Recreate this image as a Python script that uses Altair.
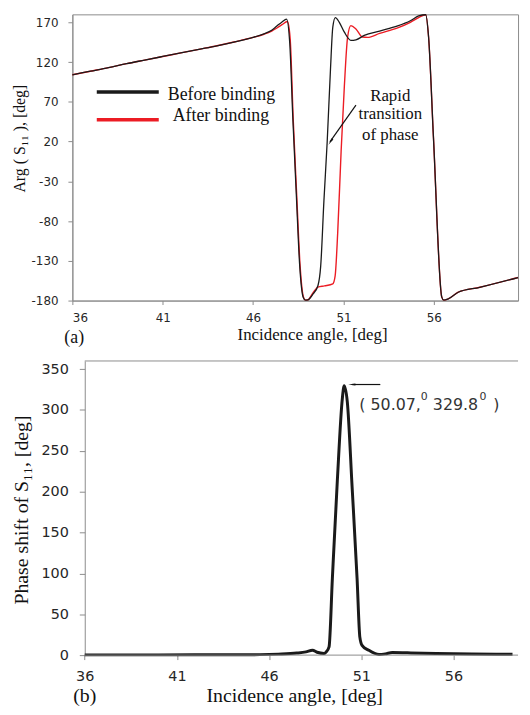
import altair as alt
import pandas as pd

# ---------------- data ----------------
# (a) Arg(S11) versus incidence angle
angle_before = [36.0, 37.0, 38.0, 39.0, 40.0, 41.0, 42.0, 43.0, 44.0, 45.0, 46.0, 46.6,
                47.03, 47.3, 47.6, 47.85, 48.03, 48.2, 48.39, 48.58, 48.77, 48.9, 49.04,
                49.32, 49.59, 49.74, 49.92, 50.1, 50.28, 50.41, 50.55, 50.77, 51.05, 51.41,
                51.69, 52.15, 53.0, 54.0, 54.7, 55.16, 55.55, 55.71, 55.98, 56.44, 56.55,
                56.8, 57.35, 58.54, 60.66]
arg_before = [104, 108.5, 113, 118, 122.5, 127, 131.5, 136, 140.5, 145.5, 151, 155.5,
              160, 165, 170.5, 174, 143, 48.6, -46, -136.7, -175.7, -179.5, -179,
              -171.6, -161, -136.7, -54, 19.8, 110, 164, 176, 170, 157.6, 147.3,
              148, 153.5, 159, 165.5, 172, 178, 179.5, 151.5, 25, -175.7, -179.5,
              -177.8, -169.5, -163.3, -151]

angle_after = [36.0, 37.0, 38.0, 39.0, 40.0, 41.0, 42.0, 43.0, 44.0, 45.0, 46.0, 46.6,
               47.03, 47.3, 47.6, 47.9, 48.05, 48.22, 48.41, 48.6, 48.78, 48.9, 49.04,
               49.32, 49.59, 49.95, 50.41, 50.54, 50.68, 50.87, 51.05, 51.23, 51.41,
               51.69, 52.05, 52.33, 53.0, 54.0, 54.7, 55.16, 55.55, 55.71, 55.98, 56.44,
               56.55, 56.8, 57.35, 58.54, 60.66]
arg_after = [104, 108.5, 113, 118, 122.5, 127, 131.5, 136, 140.5, 145.5, 151, 155,
             159, 162.5, 167, 171, 150, 48, -46, -136, -175, -179.5, -179,
             -170, -163, -161.5, -159, -149, -95.4, 7.4, 89.8, 151.5, 165.8,
             161.7, 151.5, 151, 156, 163, 170, 176, 179.5, 151.5, 25, -175.7,
             -179.5, -177.8, -169.5, -163.3, -151]

# (b) phase shift of S11
angle_shift = [36.0, 40.0, 44.0, 45.5, 46.5, 47.5, 48.0, 48.35, 48.6, 48.98, 49.1, 49.25,
               49.43, 49.7, 49.97, 50.07, 50.24, 50.5, 50.77, 50.92, 51.04, 51.4, 51.96,
               52.3, 52.68, 53.5, 55.05, 57.0, 59.2]
phase_shift = [0.3, 0.3, 0.4, 0.6, 1.2, 2.5, 4, 6, 3.5, 2, 4, 10,
               94, 214, 314, 329.8, 310, 206, 94, 22, 12, 6, 0.8,
               1.5, 3.2, 2.8, 2, 1.3, 1]

x_ticks = [36, 41, 46, 51, 56]
y_ticks_top = [-180, -130, -80, -30, 20, 70, 120, 170]
y_ticks_bot = [0, 50, 100, 150, 200, 250, 300, 350]

series_names = ["Before binding", "After binding"]
annotation_lines = ["Rapid", "transition", "of phase"]
# peak label "( 50.07,^0 329.8^0 )" split into normal and superscript pieces
peak_parts = ["( 50.07,", "329.8", ")"]
peak_parts_x = [50.89, 54.88, 58.16]
peak_sup_x = [54.22, 57.41]

# ---------------- styling ----------------
GRAY = "#8c8c8c"
BLACK = "#1a1a1a"
RED = "#ec1c24"
SERIF = "Liberation Serif"
SANS = "DejaVu Sans"
HYPHEN_LABEL = "datum.value < 0 ? '-' + abs(datum.value) : '' + datum.value"

W_TOP, H_TOP = 450, 289
W_BOT, H_BOT = 450, 297
BOT_INSET = 12.5          # bottom plot's axis corner sits a little right of the top one

top_df = pd.DataFrame({"angle": angle_before, "arg": arg_before})
top_df2 = pd.DataFrame({"angle": angle_after, "arg": arg_after})

xs_top = alt.Scale(domain=[36, 60.66], nice=False, zero=False)
ys_top = alt.Scale(domain=[-180, 180], nice=False, zero=False)

x_top = alt.X("angle:Q", scale=xs_top,
              axis=alt.Axis(values=x_ticks, title="Incidence angle, [deg]", grid=False,
                            domainColor=GRAY, tickColor=GRAY, tickSize=4,
                            labelFont=SANS, labelFontSize=12, labelColor="#262626",
                            labelPadding=8, titleFont=SERIF, titleFontSize=17,
                            titleFontWeight="normal", titleColor="#111111",
                            titlePadding=3, titleX=242))
y_top = alt.Y("arg:Q", scale=ys_top,
              axis=alt.Axis(values=y_ticks_top, title="Arg ( S\u2081\u2081 ), [deg]",
                            labelExpr=HYPHEN_LABEL,
                            grid=False, domainColor=GRAY, tickColor=GRAY, tickSize=4.5,
                            labelFont=SANS, labelFontSize=12, labelColor="#262626",
                            labelPadding=10, titleFont=SERIF, titleFontSize=16,
                            titleFontWeight="normal", titleColor="#111111",
                            titleX=-45, titleY=125))

red_line = alt.Chart(top_df2).mark_line(color=RED, strokeWidth=1.4, interpolate="monotone").encode(x=x_top, y=y_top)
black_line = alt.Chart(top_df).mark_line(color=BLACK, strokeWidth=1.3, interpolate="monotone").encode(x="angle:Q", y="arg:Q")

# legend drawn inside the plot
leg_df = pd.DataFrame({"x1": [37.35, 37.35], "x2": [40.78, 40.78], "y": [82.3, 47.3],
                       "name": series_names, "tx": [41.28, 41.55], "ty": [78.9, 52.6]})
leg_lines = alt.Chart(leg_df).mark_rule(strokeWidth=3.5).encode(
    x="x1:Q", x2="x2:Q", y="y:Q",
    color=alt.Color("name:N", scale=alt.Scale(domain=series_names, range=[BLACK, RED]), legend=None))
leg_text = alt.Chart(leg_df).mark_text(align="left", baseline="middle", font=SERIF,
                                       fontSize=18, color="#111111").encode(
    x="tx:Q", y="ty:Q", text="name:N")

ann_df = pd.DataFrame({"x": [53.59] * 3, "y": [76.9, 54.2, 27.8], "t": annotation_lines})
ann_text = alt.Chart(ann_df).mark_text(align="center", baseline="middle", font=SERIF,
                                       fontSize=17, color="#111111").encode(
    x="x:Q", y="y:Q", text="t:N")
arrow_df = pd.DataFrame({"x": [51.69], "y": [65.8], "x2": [50.25], "y2": [19.5]})
arrow_line = alt.Chart(arrow_df).mark_rule(color="#111111", strokeWidth=1.2).encode(
    x="x:Q", y="y:Q", x2="x2:Q", y2="y2:Q")
head_df = pd.DataFrame({"x": [50.32], "y": [21.0]})
arrow_head = alt.Chart(head_df).mark_point(shape="wedge", angle=215, size=70, filled=True,
                                            color="#111111", opacity=1).encode(x="x:Q", y="y:Q")

tag_a = alt.Chart(pd.DataFrame({"x": [36.1], "y": [-227], "t": ["(a)"]})).mark_text(
    align="center", baseline="middle", font=SERIF, fontSize=18, color="#111111").encode(
    x="x:Q", y="y:Q", text="t:N")

top = alt.layer(red_line, black_line, leg_lines, leg_text, ann_text, arrow_line, arrow_head, tag_a).properties(
    width=W_TOP, height=H_TOP, view=alt.ViewBackground(stroke=GRAY, strokeWidth=1))

# ---------------- bottom panel ----------------
bot_df = pd.DataFrame({"angle": angle_shift, "shift": phase_shift})
X_BOT_MAX = 59.5
X_BOT_MIN = 36 - BOT_INSET * (X_BOT_MAX - 36) / (W_BOT - BOT_INSET)
xs_bot = alt.Scale(domain=[X_BOT_MIN, X_BOT_MAX], nice=False, zero=False)
ys_bot = alt.Scale(domain=[0, 360], nice=False, zero=False)

x_bot = alt.X("angle:Q", scale=xs_bot,
              axis=alt.Axis(values=x_ticks, title="Incidence angle, [deg]", grid=False,
                            domain=False, tickColor=GRAY, tickSize=4.5,
                            labelFont=SANS, labelFontSize=14.5, labelColor="#262626",
                            labelPadding=10, titleFont=SERIF, titleFontSize=20,
                            titleFontWeight="normal", titleColor="#111111",
                            titlePadding=3, titleX=224))
y_bot = alt.Y("shift:Q", scale=ys_bot,
              axis=alt.Axis(values=y_ticks_bot, title="Phase shift of S\u2081\u2081, [deg]",
                            offset=-BOT_INSET,
                            grid=False, domainColor=GRAY, tickColor=GRAY, tickSize=5.5,
                            labelFont=SANS, labelFontSize=14.5, labelColor="#262626",
                            labelPadding=11, titleFont=SERIF, titleFontSize=20,
                            titleFontWeight="normal", titleColor="#111111",
                            titleX=-53.5, titleY=150))

shift_line = alt.Chart(bot_df).mark_line(color=BLACK, strokeWidth=3, interpolate="monotone").encode(x=x_bot, y=y_bot)
frame_df = pd.DataFrame({"x": [36.0]})
top_border = alt.Chart(frame_df).mark_rule(color=GRAY, strokeWidth=1).encode(
    x="x:Q", x2=alt.value(W_BOT), y=alt.value(0))
base_line = alt.Chart(frame_df).mark_rule(color=GRAY, strokeWidth=1).encode(
    x="x:Q", x2=alt.value(W_BOT), y=alt.value(H_BOT))

b_arrow_df = pd.DataFrame({"x": [52.03], "x2": [50.5], "y": [331.2]})
b_arrow = alt.Chart(b_arrow_df).mark_rule(color="#111111", strokeWidth=1.2).encode(x="x:Q", x2="x2:Q", y="y:Q")
b_head = alt.Chart(pd.DataFrame({"x": [50.55], "y": [331.2]})).mark_point(
    shape="wedge", angle=270, size=70, filled=True, color="#111111", opacity=1).encode(x="x:Q", y="y:Q")
b_text = alt.Chart(pd.DataFrame({"x": peak_parts_x, "y": [306] * 3, "t": peak_parts})).mark_text(
    align="left", baseline="middle", font=SANS, fontSize=16, color="#333333").encode(
    x="x:Q", y="y:Q", text="t:N")
b_sup = alt.Chart(pd.DataFrame({"x": peak_sup_x, "y": [316] * 2, "t": ["0", "0"]})).mark_text(
    align="left", baseline="middle", font=SANS, fontSize=11, color="#333333").encode(
    x="x:Q", y="y:Q", text="t:N")
tag_b = alt.Chart(pd.DataFrame({"x": [36.0], "y": [-50], "t": ["(b)"]})).mark_text(
    align="center", baseline="middle", font=SERIF, fontSize=20, color="#111111").encode(
    x="x:Q", y="y:Q", text="t:N")

bottom = alt.layer(shift_line, top_border, base_line, b_arrow, b_head, b_text, b_sup, tag_b).properties(
    width=W_BOT, height=H_BOT, view=alt.ViewBackground(stroke=None))

chart = alt.concat(top, bottom, columns=1, spacing=12).properties(
    padding={"left": 3, "top": 0, "right": 0, "bottom": 0},
    background="white")

chart.save("out.html", embed_options={"renderer": "svg", "actions": False})
